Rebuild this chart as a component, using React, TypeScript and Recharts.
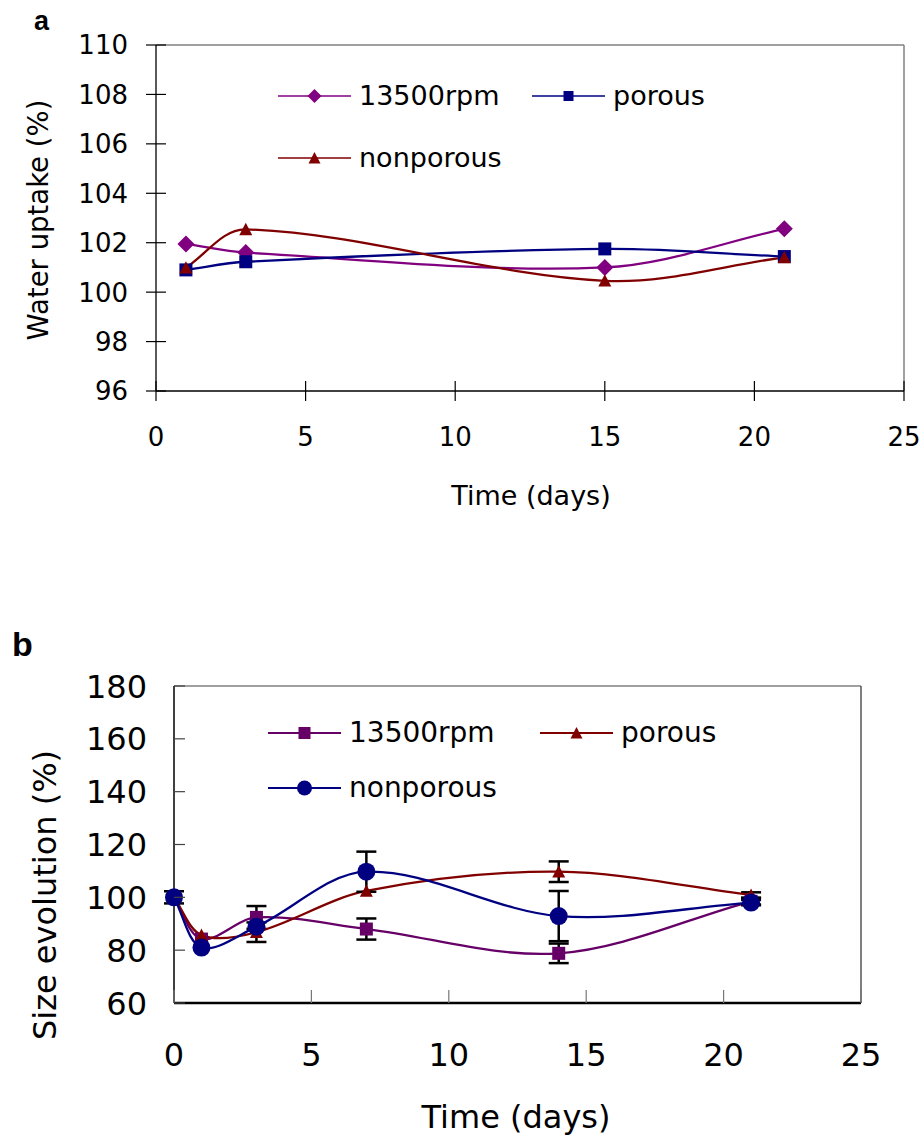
import React from 'react';
import { LineChart, Line, XAxis, YAxis, ErrorBar, ReferenceLine, Legend } from 'recharts';

// ---------- Data: chart a (water uptake) ----------
const daysA = [1, 3, 15, 21];
const rpmA = [101.95, 101.6, 101.0, 102.56];
const porousA = [100.9, 101.23, 101.75, 101.44];
const nonporousA = [100.99, 102.54, 100.46, 101.41];
const xTicks = [0, 5, 10, 15, 20, 25];
const yTicksA = [96, 98, 100, 102, 104, 106, 108, 110];

// ---------- Data: chart b (size evolution) ----------
const daysB = [0, 1, 3, 7, 14, 21];
const rpmB = [100, 84.2, 92.4, 88.0, 78.8, 98.5];
const rpmErrB = [0, 0, 4.3, 4.0, 3.7, 1.2];
const porousB = [100, 85.7, 86.8, 102.4, 109.7, 100.9];
const porousErrB = [0, 0, 3.7, 0, 3.9, 1.0];
const nonporousB = [100, 81.0, 88.9, 109.7, 92.9, 98.0];
const nonporousErrB = [2.3, 0, 0, 7.6, 9.5, 1.0];
const yTicksB = [60, 80, 100, 120, 140, 160, 180];

const dataA = daysA.map((d, i) => ({ day: d, rpm: rpmA[i], porous: porousA[i], nonporous: nonporousA[i] }));
const dataB = daysB.map((d, i) => ({
  day: d,
  rpm: rpmB[i], rpmErr: rpmErrB[i],
  porous: porousB[i], porousErr: porousErrB[i],
  nonporous: nonporousB[i], nonporousErr: nonporousErrB[i],
}));

const PURPLE_A = '#800080';
const PURPLE_B = '#660066';
const NAVY = '#000080';
const DARKRED = '#800000';
const FONT = '"DejaVu Sans", sans-serif';

// Excel-like smoothed line (chord-length scaled cardinal Bezier)
const excelSmooth: any = (context: any) => {
  let pts: number[][] = [];
  const dist = (a: number[], b: number[]) => Math.hypot(b[0] - a[0], b[1] - a[1]);
  return {
    areaStart() {},
    areaEnd() {},
    lineStart() { pts = []; },
    point(x: number, y: number) { pts.push([+x, +y]); },
    lineEnd() {
      const n = pts.length;
      if (!n) return;
      context.moveTo(pts[0][0], pts[0][1]);
      for (let i = 0; i < n - 1; i++) {
        const p0 = pts[Math.max(i - 1, 0)];
        const p1 = pts[i];
        const p2 = pts[i + 1];
        const p3 = pts[Math.min(i + 2, n - 1)];
        const d01 = dist(p0, p1), d12 = dist(p1, p2), d23 = dist(p2, p3);
        const f1 = d01 + d12 > 0 ? d12 / (d01 + d12) / 3 : 0;
        const f2 = d12 + d23 > 0 ? d12 / (d12 + d23) / 3 : 0;
        const c1x = p1[0] + (p2[0] - p0[0]) * f1;
        const c1y = p1[1] + (p2[1] - p0[1]) * f1;
        const c2x = p2[0] - (p3[0] - p1[0]) * f2;
        const c2y = p2[1] - (p3[1] - p1[1]) * f2;
        context.bezierCurveTo(c1x, c1y, c2x, c2y, p2[0], p2[1]);
      }
    },
  };
};

function marker(shape: string, cx: number, cy: number, s: number, color: string, key?: any) {
  if (shape === 'diamond') {
    return <path key={key} d={`M${cx},${cy - s}L${cx + s},${cy}L${cx},${cy + s}L${cx - s},${cy}Z`} fill={color} />;
  }
  if (shape === 'square') {
    return <rect key={key} x={cx - s} y={cy - s} width={2 * s} height={2 * s} fill={color} />;
  }
  if (shape === 'triangle') {
    return <path key={key} d={`M${cx},${cy - s}L${cx + s},${cy + s * 0.9}L${cx - s},${cy + s * 0.9}Z`} fill={color} />;
  }
  return <circle key={key} cx={cx} cy={cy} r={s} fill={color} />;
}

const dotFn = (shape: string, s: number, color: string) => (p: any) => {
  if (p.cx == null || p.cy == null) return <g key={`e-${p.index}`} />;
  return marker(shape, p.cx, p.cy, s, color, `${shape}-${p.index}`);
};

function LegendItem({ x, y, label, color, shape, s, fontSize, lw }: any) {
  return (
    <>
      <svg style={{ position: 'absolute', left: x, top: y - 10, overflow: 'visible' }} width={74} height={20}>
        <line x1={0} x2={73} y1={10} y2={10} stroke={color} strokeWidth={lw} />
        {marker(shape, 36.5, 10, s, color)}
      </svg>
      <div style={{ position: 'absolute', left: x + 81, top: y - fontSize * 0.6, fontSize, lineHeight: `${fontSize * 1.2}px`, whiteSpace: 'nowrap', fontFamily: FONT, color: '#000' }}>{label}</div>
    </>
  );
}

const LegendA = () => (
  <div style={{ position: 'relative', width: 920, height: 0 }}>
    <LegendItem x={278} y={96} label="13500rpm" color={PURPLE_A} shape="diamond" s={7} fontSize={27} lw={1.5} />
    <LegendItem x={532} y={96} label="porous" color={NAVY} shape="square" s={5} fontSize={27} lw={1.5} />
    <LegendItem x={278} y={158} label="nonporous" color={DARKRED} shape="triangle" s={6} fontSize={27} lw={1.5} />
  </div>
);

const LegendB = () => (
  <div style={{ position: 'relative', width: 920, height: 0 }}>
    <LegendItem x={268} y={133} label="13500rpm" color={PURPLE_B} shape="square" s={6} fontSize={28} lw={2} />
    <LegendItem x={540} y={133} label="porous" color={DARKRED} shape="triangle" s={6} fontSize={28} lw={2} />
    <LegendItem x={268} y={188} label="nonporous" color={NAVY} shape="circle" s={7.5} fontSize={28} lw={2} />
  </div>
);

const TickAY = (p: any) => (
  <g>
    <line x1={p.x - 10} x2={p.x + 10} y1={p.y} y2={p.y} stroke="#000" strokeWidth={1.2} />
    <text x={p.x - 28} y={p.y} dy="0.36em" textAnchor="end" fontSize={26} fill="#000" fontFamily={FONT}>{p.payload.value}</text>
  </g>
);
const TickAX = (p: any) => (
  <g>
    <line x1={p.x} x2={p.x} y1={p.y - 10} y2={p.y + 10} stroke="#000" strokeWidth={1.2} />
    <text x={p.x} y={p.y + 55} textAnchor="middle" fontSize={26} fill="#000" fontFamily={FONT}>{p.payload.value}</text>
  </g>
);
const TickBY = (p: any) => (
  <g>
    <line x1={p.x} x2={p.x + 11} y1={p.y} y2={p.y} stroke="#444" strokeWidth={1.2} />
    <text x={p.x - 27} y={p.y} dy="0.36em" textAnchor="end" fontSize={32} fill="#000" fontFamily={FONT}>{p.payload.value}</text>
  </g>
);
const TickBX = (p: any) => (
  <g>
    <line x1={p.x} x2={p.x} y1={p.y - 13} y2={p.y} stroke="#777" strokeWidth={1.2} />
    <text x={p.x} y={p.y + 63} textAnchor="middle" fontSize={32} fill="#000" fontFamily={FONT}>{p.payload.value}</text>
  </g>
);

const abs = (left: number, top: number, extra: any = {}) => ({ position: 'absolute' as const, left, top, ...extra });

export default function App() {
  return (
    <div style={{ position: 'absolute', left: 0, top: 0, width: 920, height: 1137, background: '#fff', fontFamily: FONT, overflow: 'hidden' }}>
      {/* Chart a */}
      <div style={abs(0, 0)}>
        <LineChart width={920} height={520} data={dataA} margin={{ top: 45, right: 16, bottom: 69, left: 0 }}>
          <ReferenceLine y={110} stroke="#808080" strokeWidth={1.5} />
          <ReferenceLine x={25} stroke="#808080" strokeWidth={1.5} />
          <XAxis dataKey="day" type="number" domain={[0, 25]} ticks={xTicks} interval={0} height={60}
            axisLine={{ stroke: '#000', strokeWidth: 1.3 }} tickLine={false} tickSize={0} tickMargin={0} tick={TickAX} />
          <YAxis type="number" domain={[96, 110]} ticks={yTicksA} interval={0} width={156}
            axisLine={{ stroke: '#000', strokeWidth: 1.3 }} tickLine={false} tickSize={0} tickMargin={0} tick={TickAY} />
          <Legend content={LegendA} wrapperStyle={{ position: 'absolute', left: 0, top: 0, width: 920, height: 0, margin: 0, padding: 0 }} />
          <Line dataKey="rpm" name="13500rpm" type={excelSmooth} stroke={PURPLE_A} strokeWidth={2.3}
            dot={dotFn('diamond', 8.5, PURPLE_A)} activeDot={false} isAnimationActive={false} />
          <Line dataKey="porous" name="porous" type={excelSmooth} stroke={NAVY} strokeWidth={2.3}
            dot={dotFn('square', 6.5, NAVY)} activeDot={false} isAnimationActive={false} />
          <Line dataKey="nonporous" name="nonporous" type={excelSmooth} stroke={DARKRED} strokeWidth={2.3}
            dot={dotFn('triangle', 6.5, DARKRED)} activeDot={false} isAnimationActive={false} />
        </LineChart>
      </div>
      <div style={abs(34, 5, { fontFamily: '"Liberation Sans", Arial, sans-serif', fontWeight: 'bold', fontSize: 27, lineHeight: '32px' })}>a</div>
      <div style={abs(38, 220, { transform: 'translate(-50%, -50%) rotate(-90deg)', fontSize: 27.5, whiteSpace: 'nowrap' })}>Water uptake (%)</div>
      <div style={abs(531, 495, { transform: 'translate(-50%, -50%)', fontSize: 27, whiteSpace: 'nowrap' })}>Time (days)</div>

      {/* Chart b */}
      <div style={abs(0, 600)}>
        <LineChart width={920} height={537} data={dataB} margin={{ top: 86, right: 59, bottom: 74, left: 0 }}>
          <ReferenceLine y={180} stroke="#808080" strokeWidth={1.5} />
          <ReferenceLine x={25} stroke="#555" strokeWidth={1.5} />
          <XAxis dataKey="day" type="number" domain={[0, 25]} ticks={xTicks} interval={0} height={60}
            axisLine={{ stroke: '#000', strokeWidth: 2.5 }} tickLine={false} tickSize={0} tickMargin={0} tick={TickBX} />
          <YAxis type="number" domain={[60, 180]} ticks={yTicksB} interval={0} width={174}
            axisLine={{ stroke: '#000', strokeWidth: 1.5 }} tickLine={false} tickSize={0} tickMargin={0} tick={TickBY} />
          <Legend content={LegendB} wrapperStyle={{ position: 'absolute', left: 0, top: 0, width: 920, height: 0, margin: 0, padding: 0 }} />
          <Line dataKey="rpm" name="13500rpm" type={excelSmooth} stroke={PURPLE_B} strokeWidth={2.3}
            dot={dotFn('square', 6.5, PURPLE_B)} activeDot={false} isAnimationActive={false}>
            <ErrorBar dataKey="rpmErr" direction="y" width={10} stroke="#000" strokeWidth={2.5} />
          </Line>
          <Line dataKey="porous" name="porous" type={excelSmooth} stroke={DARKRED} strokeWidth={2.3}
            dot={dotFn('triangle', 6.5, DARKRED)} activeDot={false} isAnimationActive={false}>
            <ErrorBar dataKey="porousErr" direction="y" width={10} stroke="#000" strokeWidth={2.5} />
          </Line>
          <Line dataKey="nonporous" name="nonporous" type={excelSmooth} stroke={NAVY} strokeWidth={2.3}
            dot={dotFn('circle', 9, NAVY)} activeDot={false} isAnimationActive={false}>
            <ErrorBar dataKey="nonporousErr" direction="y" width={10} stroke="#000" strokeWidth={2.5} />
          </Line>
        </LineChart>
      </div>
      <div style={abs(12, 624, { fontFamily: '"Liberation Sans", Arial, sans-serif', fontWeight: 'bold', fontSize: 34, lineHeight: '40px' })}>b</div>
      <div style={abs(45, 895, { transform: 'translate(-50%, -50%) rotate(-90deg)', fontSize: 32, whiteSpace: 'nowrap' })}>Size evolution (%)</div>
      <div style={abs(516, 1117, { transform: 'translate(-50%, -50%)', fontSize: 32, whiteSpace: 'nowrap' })}>Time (days)</div>
    </div>
  );
}
